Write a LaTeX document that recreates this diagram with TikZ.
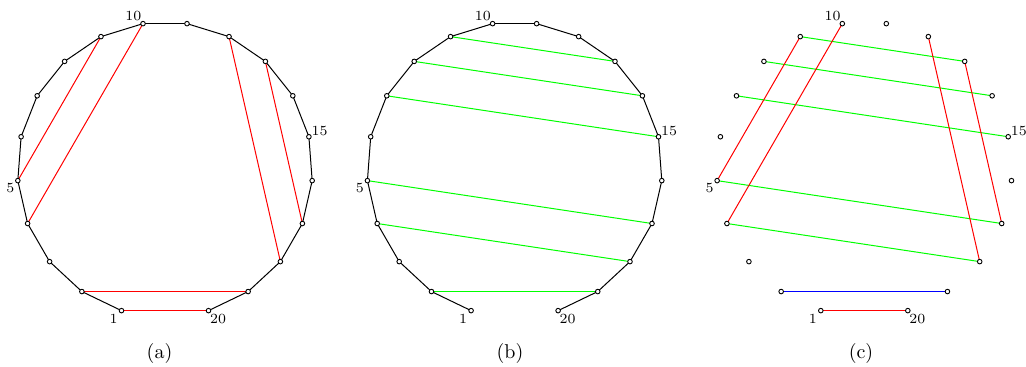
\documentclass[tikz,border=0pt]{standalone}
\usetikzlibrary{calc}
\begin{document}
\begin{tikzpicture}[x=0.5pt,y=-0.5pt,
  edge/.style={black,line width=0.5pt},
  redch/.style={draw=red,line width=0.5pt},
  greench/.style={draw=green,line width=0.5pt},
  bluech/.style={draw=blue,line width=0.5pt},
  dot/.style={circle,draw=black,fill=white,inner sep=0pt,minimum size=2.3pt,line width=0.45pt},
  lbl/.style={font=\scriptsize,inner sep=0pt},
  captext/.style={font=\normalsize,inner sep=0pt,anchor=base}]
\useasboundingbox (0,0) rectangle (1026,367);
% vertices: regular 21-gon with one vertex removed
\foreach \p/\cx in {a/165,b/514.6,c/864.3}{
  \foreach \k in {1,...,20}{
    \coordinate (\p\k) at ({\cx+147.6*cos(90+360/21*\k)},{169.6+147.6*sin(90+360/21*\k)});
  }
}
% polygon edges in (a) and (b)
\foreach \p in {a,b}{
  \foreach \k [evaluate=\k as \n using int(\k+1)] in {1,...,19}{
    \draw[edge] (\p\k) -- (\p\n);
  }
}
% (a) red chords
\path[redch] (a1) -- (a20);
\path[redch] (a2) -- (a19);
\path[redch] (a4) -- (a10);
\path[redch] (a5) -- (a9);
\path[redch] (a12) -- (a18);
\path[redch] (a13) -- (a17);
% (b) green chords
\path[greench] (b2) -- (b19);
\path[greench] (b4) -- (b18);
\path[greench] (b5) -- (b17);
\path[greench] (b7) -- (b15);
\path[greench] (b8) -- (b14);
\path[greench] (b9) -- (b13);
% (c) combined
\path[greench] (c4) -- (c18);
\path[greench] (c5) -- (c17);
\path[greench] (c7) -- (c15);
\path[greench] (c8) -- (c14);
\path[greench] (c9) -- (c13);
\path[bluech] (c2) -- (c19);
\path[redch] (c1) -- (c20);
\path[redch] (c4) -- (c10);
\path[redch] (c5) -- (c9);
\path[redch] (c12) -- (c18);
\path[redch] (c13) -- (c17);
% dots
\foreach \p in {a,b,c}{
  \foreach \k in {1,...,20}{
    \node[dot] (\p d\k) at (\p\k) {};
  }
  \node[lbl] (\p l10) at ($(\p10)+(-9.7,-7.8)$) {10};
  \node[lbl] (\p l5) at ($(\p5)+(-7.5,7.6)$) {5};
  \node[lbl] (\p l15) at ($(\p15)+(10.7,-6)$) {15};
  \node[lbl] (\p l1) at ($(\p1)+(-8,8.7)$) {1};
  \node[lbl] (\p l20) at ($(\p20)+(9.6,8.7)$) {20};
}
% captions
\node[captext] (capa) at (159.5,359) {(a)};
\node[captext] (capb) at (510,359) {(b)};
\node[captext] (capc) at (861,359) {(c)};
\end{tikzpicture}
\end{document}
